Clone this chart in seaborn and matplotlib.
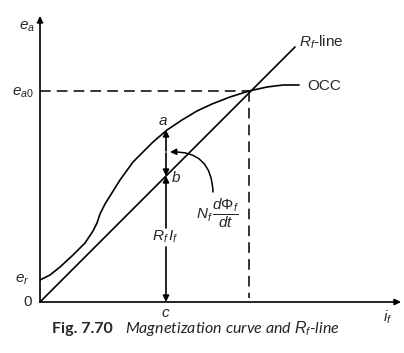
import matplotlib
matplotlib.use("Agg")
import matplotlib.pyplot as plt
import seaborn as sns
import pandas as pd

sns.set_style("white")
plt.rcParams['font.family'] = ['Liberation Sans', 'DejaVu Sans']
plt.rcParams['mathtext.fontset'] = 'custom'
plt.rcParams['mathtext.rm'] = 'Liberation Sans'
plt.rcParams['mathtext.it'] = 'Liberation Sans:italic'
plt.rcParams['mathtext.bf'] = 'Liberation Sans:bold'

# Magnetization curve (OCC)
occ_if = [0, 10, 20, 33, 45, 53, 57, 60, 65, 70, 80, 93, 107, 113, 127, 142, 157, 172, 190, 209, 227, 243, 259]
occ_e = [22, 27, 35, 47, 59, 71, 79, 88, 98, 106, 122, 140, 154, 160, 172, 182, 191, 198, 205, 211, 215, 217, 217]
# Rf line
rf_if = [0, 255]
rf_e = [0, 255]
# operating points
i_c = 126
e_a = 172
e_b = 126
i_0 = 209
e_0 = 211
e_r = 22

fig = plt.figure(figsize=(4.04, 3.53), dpi=100)
ax = fig.add_axes([0, 0, 1, 1])
ax.set_xlim(-40, 364)
ax.set_ylim(-51, 302)
ax.axis('off')

occ = pd.DataFrame({'i': occ_if, 'e': occ_e})
rf = pd.DataFrame({'i': rf_if, 'e': rf_e})
sns.lineplot(data=occ, x='i', y='e', ax=ax, color='black', lw=1.2, sort=False)
sns.lineplot(data=rf, x='i', y='e', ax=ax, color='black', lw=1.2, sort=False)

arrow = dict(arrowstyle='-|>', mutation_scale=9, lw=1.2, color='black', shrinkA=0, shrinkB=0)
# axes
ax.annotate('', xy=(0, 286), xytext=(0, 0), arrowprops=arrow)
ax.annotate('', xy=(361, 0), xytext=(0, 0), arrowprops=arrow)

# dashed
ax.plot([0, i_0], [e_0, e_0], color='black', lw=1.1, dashes=(7, 4))
ax.plot([i_0, i_0], [e_0, 4], color='black', lw=1.1, dashes=(7, 4))

# a-b arrows
ax.annotate('', xy=(i_c, e_a), xytext=(i_c, 151), arrowprops=arrow)
ax.annotate('', xy=(i_c, e_b), xytext=(i_c, 149), arrowprops=arrow)
# b-c arrows
ax.annotate('', xy=(i_c, e_b), xytext=(i_c, 74), arrowprops=arrow)
ax.annotate('', xy=(i_c, 0), xytext=(i_c, 55), arrowprops=arrow)

# curved arrow
ax.annotate('', xy=(130, 150), xytext=(173, 110),
            arrowprops=dict(arrowstyle='-|>', mutation_scale=9, lw=1.1, color='black',
                            shrinkA=0, shrinkB=0, connectionstyle='arc3,rad=0.5'))

fs = 11
ax.text(-13, 275, r'$e_a$', fontsize=fs, ha='center', va='center')
ax.text(-17, 209, r'$e_{a0}$', fontsize=fs, ha='center', va='center')
ax.text(-18, e_r, r'$e_r$', fontsize=fs, ha='center', va='center')
ax.text(-12, 0, '0', fontsize=fs, ha='center', va='center')
ax.text(i_c, -11, r'$c$', fontsize=fs, ha='center', va='center')
ax.text(348, -15, r'$i_f$', fontsize=fs, ha='center', va='center')
ax.text(123, 181, r'$a$', fontsize=fs, ha='center', va='center')
ax.text(136, 124, r'$b$', fontsize=fs, ha='center', va='center')
ax.text(125, 65, r'$R_f\,I_f$', fontsize=fs, ha='center', va='center')
ax.text(178, 89, r'$N_f\,\dfrac{d\Phi_f}{dt}$', fontsize=fs, ha='center', va='center')
ax.text(259, 260, r'$R_f$-line', fontsize=fs, ha='left', va='center')
ax.text(267, 216, 'OCC', fontsize=fs, ha='left', va='center')

ax.text(12, -27, 'Fig. 7.70', fontsize=11.5, fontweight='bold', family=['Lato', 'DejaVu Sans'],
        ha='left', va='center')
ax.text(85, -27, r'Magnetization curve and $R_f$-line', fontsize=11.5, style='italic',
        family=['Lato', 'DejaVu Sans'], ha='left', va='center')

fig.savefig('out.png', dpi=100)
